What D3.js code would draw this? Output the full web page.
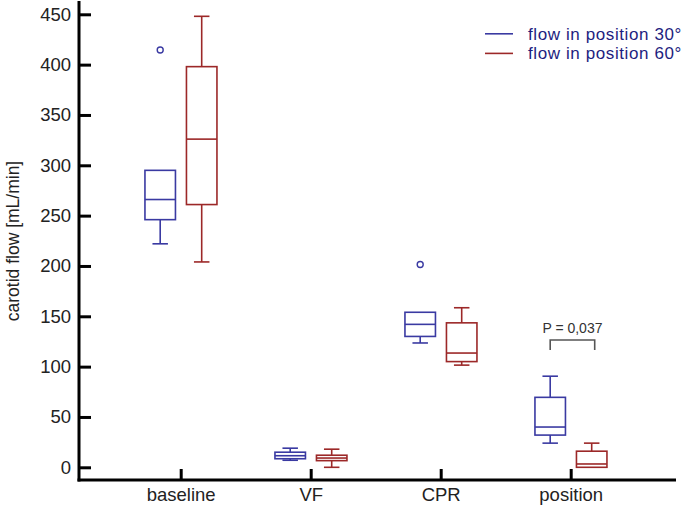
<!DOCTYPE html>
<html><head><meta charset="utf-8">
<script src="https://cdn.jsdelivr.net/npm/d3@7"></script>
<style>body{margin:0;background:#fff}svg{display:block}</style>
</head><body>
<svg id="c" width="685" height="506"></svg>
<script>
const categories = ["baseline", "VF", "CPR", "position"];
const seriesNames = ["flow in position 30°", "flow in position 60°"];
// [lowerWhisker, Q1, median, Q3, upperWhisker]
const flow30 = [
  [222, 246, 266, 295, 295],
  [7, 8.5, 11.5, 15, 19],
  [123.5, 130, 142, 154, 154],
  [24, 32, 40, 69.5, 90.5]
];
const flow60 = [
  [204, 261, 326, 398, 448],
  [0, 6.6, 9.2, 12, 18],
  [101.5, 105, 113.5, 143.5, 158.5],
  [0, 0, 3.3, 16, 24]
];
const outliers30 = [[0, 414.5], [2, 201.5]];
const outliers60 = [];
const yTicks = [0, 50, 100, 150, 200, 250, 300, 350, 400, 450];
const pLabel = "P = 0,037";
const pBracket = {cat: 3, y: 126.5, tip: 116.5};
const yLabel = "carotid flow [mL/min]";

const colors = ["#3a3aa2", "#9c2828"];
const font = "'Liberation Sans', Arial, sans-serif";

const svg = d3.select("#c");
const y = d3.scaleLinear().domain([0, 450]).range([467.3, 14.3]);
const x = d3.scalePoint().domain(categories).range([180.7, 570.7]);
const off = d3.scalePoint().domain([0, 1]).range([-20.5, 21]);
const boxW = 30.5, capW = 15.5;

// axes
const yAx = svg.append("g").attr("transform", "translate(79,0)")
  .call(d3.axisLeft(y).tickValues(yTicks).tickSize(-12).tickPadding(8));
yAx.select(".domain").remove();
yAx.selectAll(".tick line").attr("stroke", "#000").attr("stroke-width", 3);
yAx.selectAll(".tick text").attr("font-family", font).attr("font-size", 18.5).attr("fill", "#222");

const xAx = svg.append("g").attr("transform", "translate(0,480)")
  .call(d3.axisBottom(x).tickSize(-11).tickPadding(8));
xAx.select(".domain").remove();
xAx.selectAll(".tick line").attr("stroke", "#000").attr("stroke-width", 3);
xAx.selectAll(".tick text").attr("font-family", font).attr("font-size", 18.5).attr("fill", "#222");

svg.append("line").attr("x1", 79).attr("x2", 79).attr("y1", 1).attr("y2", 481.5)
  .attr("stroke", "#000").attr("stroke-width", 3);
svg.append("line").attr("x1", 77.5).attr("x2", 676).attr("y1", 480).attr("y2", 480)
  .attr("stroke", "#000").attr("stroke-width", 3);

// y label
svg.append("text").attr("transform", "translate(19,241) rotate(-90)")
  .attr("text-anchor", "middle").attr("font-family", font).attr("font-size", 17.5)
  .attr("fill", "#222").text(yLabel);

// boxes
[flow30, flow60].forEach((series, si) => {
  const g = svg.append("g").attr("stroke", colors[si]).attr("stroke-width", 1.6).attr("fill", "none");
  series.forEach((d, ci) => {
    const cx = x(categories[ci]) + off(si);
    const [lo, q1, med, q3, hi] = d;
    if (hi > q3) {
      g.append("line").attr("x1", cx).attr("x2", cx).attr("y1", y(q3)).attr("y2", y(hi));
      g.append("line").attr("x1", cx - capW / 2).attr("x2", cx + capW / 2).attr("y1", y(hi)).attr("y2", y(hi));
    }
    if (lo < q1) {
      g.append("line").attr("x1", cx).attr("x2", cx).attr("y1", y(q1)).attr("y2", y(lo));
      g.append("line").attr("x1", cx - capW / 2).attr("x2", cx + capW / 2).attr("y1", y(lo)).attr("y2", y(lo));
    }
    g.append("rect").attr("x", cx - boxW / 2).attr("width", boxW)
      .attr("y", y(q3)).attr("height", Math.max(0, y(q1) - y(q3)));
    g.append("line").attr("x1", cx - boxW / 2).attr("x2", cx + boxW / 2).attr("y1", y(med)).attr("y2", y(med));
  });
});
[outliers30, outliers60].forEach((os, si) => {
  os.forEach(([ci, v]) => {
    svg.append("circle").attr("cx", x(categories[ci]) + off(si)).attr("cy", y(v)).attr("r", 3)
      .attr("fill", "none").attr("stroke", colors[si]).attr("stroke-width", 1.4);
  });
});

// bracket
{
  const x1 = x(categories[pBracket.cat]) + off(0);
  const x2 = x(categories[pBracket.cat]) + off(1) + 3;
  svg.append("path")
    .attr("d", `M${x1},${y(pBracket.tip)}V${y(pBracket.y)}H${x2}V${y(pBracket.tip)}`)
    .attr("fill", "none").attr("stroke", "#555").attr("stroke-width", 1.6);
  svg.append("text").attr("x", (x1 + x2) / 2).attr("y", y(pBracket.y) - 7)
    .attr("text-anchor", "middle").attr("font-family", font).attr("font-size", 14)
    .attr("fill", "#333").text(pLabel);
}

// legend
const lg = svg.append("g");
seriesNames.forEach((n, i) => {
  const ly = 33.8 + i * 19.6;
  lg.append("line").attr("x1", 485).attr("x2", 513).attr("y1", ly).attr("y2", ly)
    .attr("stroke", colors[i]).attr("stroke-width", 1.6);
  lg.append("text").attr("x", 528).attr("y", ly).attr("dy", "0.35em")
    .attr("font-family", font).attr("font-size", 17).attr("letter-spacing", 0.6)
    .attr("fill", "#1e1e80").text(n);
});
</script>
</body></html>
